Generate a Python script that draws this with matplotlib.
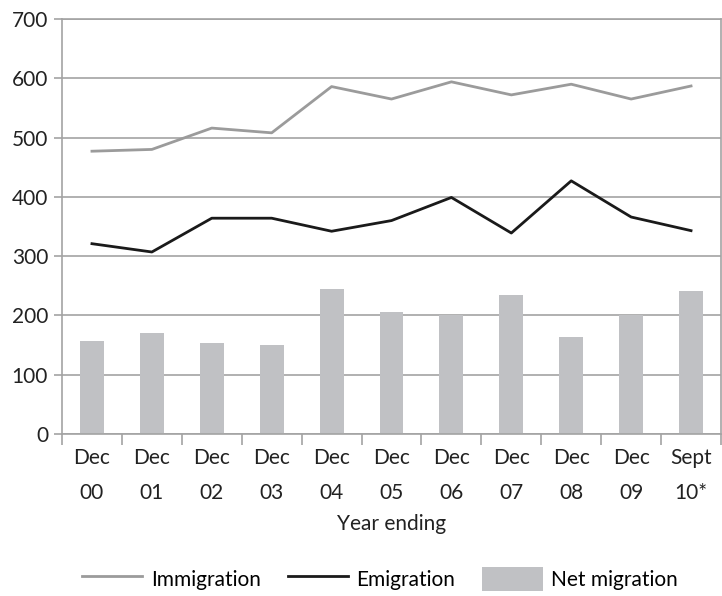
import numpy as np
import matplotlib
matplotlib.use('Agg')
import matplotlib.pyplot as plt
from matplotlib.patches import Patch
from matplotlib.lines import Line2D

categorias = ['Dec\n00', 'Dec\n01', 'Dec\n02', 'Dec\n03', 'Dec\n04', 'Dec\n05',
              'Dec\n06', 'Dec\n07', 'Dec\n08', 'Dec\n09', 'Sept\n10*']
inmigracion = [477, 480, 516, 508, 586, 565, 594, 572, 590, 565, 587]
emigracion = [321, 307, 364, 364, 342, 360, 399, 339, 427, 366, 343]
neta = [157, 170, 153, 150, 245, 206, 201, 234, 164, 201, 241]

GRIS_INM = '#9b9b9b'
NEGRO_EMI = '#1a1a1a'
GRIS_BARRA = '#c0c1c4'
GRIS_EJE = '#a3a3a3'

plt.rcParams['font.family'] = ['Lato', 'DejaVu Sans']

fig = plt.figure(figsize=(7.22, 5.96), dpi=100)
ax = fig.add_axes([62 / 722, 162 / 596, 659 / 722, 415 / 596])

x = np.arange(len(categorias))
ax.bar(x, neta, width=0.4, color=GRIS_BARRA, zorder=2)
ax.plot(x, inmigracion, color=GRIS_INM, lw=2.0, zorder=3)
ax.plot(x, emigracion, color=NEGRO_EMI, lw=2.0, zorder=3)

ax.set_xlim(-0.5, len(categorias) - 0.5)
ax.set_ylim(0, 700)
ax.set_yticks(range(0, 701, 100))
ax.yaxis.grid(True, color=GRIS_EJE, lw=1.2, zorder=1)
ax.set_axisbelow(True)

# ticks entre categorías, etiquetas al centro
ax.set_xticks(np.arange(-0.5, len(categorias), 1.0))
ax.set_xticklabels([])
ax.set_xticks(x, minor=True)
ax.set_xticklabels(categorias, minor=True, fontsize=15, color='#222222', linespacing=1.95)
ax.tick_params(axis='x', which='major', length=8, width=1.2, color=GRIS_EJE, direction='out')
ax.tick_params(axis='x', which='minor', length=0, pad=10)
ax.tick_params(axis='y', length=6, width=1.2, color=GRIS_EJE, labelsize=15,
               labelcolor='#222222', pad=4)

for lado in ['left', 'bottom', 'top', 'right']:
    ax.spines[lado].set_color(GRIS_EJE)
    ax.spines[lado].set_linewidth(1.2)

ax.set_xlabel('Year ending', fontsize=15, color='#222222', labelpad=8)

manijas = [Line2D([], [], color=GRIS_INM, lw=2.0),
           Line2D([], [], color=NEGRO_EMI, lw=2.0),
           Patch(facecolor=GRIS_BARRA, edgecolor='none')]
fig.legend(manijas, ['Immigration', 'Emigration', 'Net migration'],
           loc='center', bbox_to_anchor=(380 / 722, 1 - 579 / 596), ncol=3,
           frameon=False, fontsize=15, handlelength=2.9, handleheight=1.4,
           columnspacing=1.3, handletextpad=0.4)

plt.savefig('out.png', dpi=100, facecolor='white')
plt.close()
